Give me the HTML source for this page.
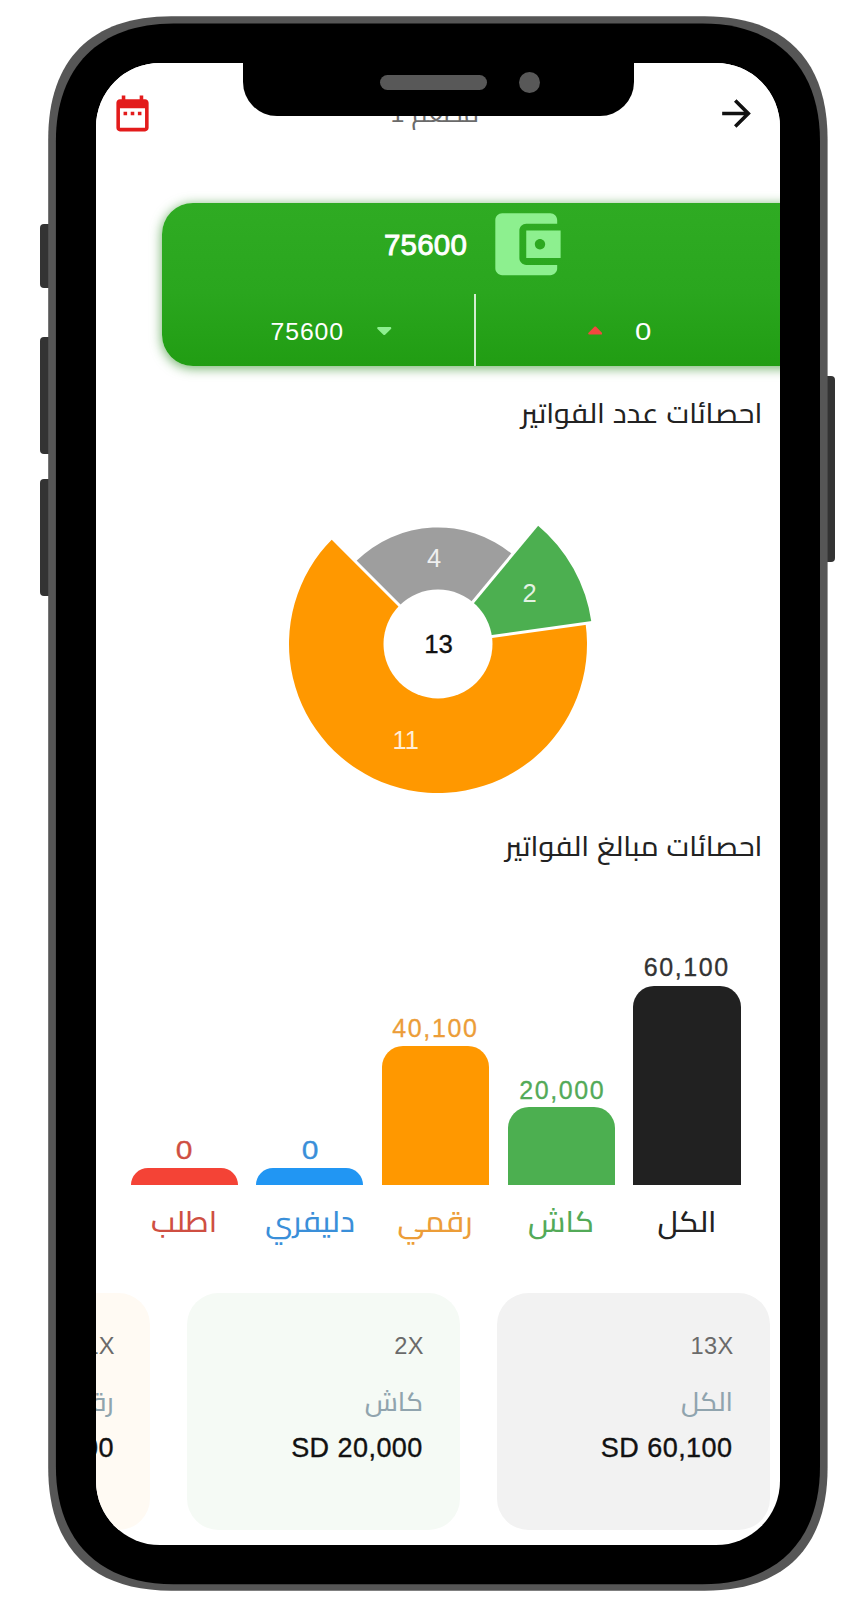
<!DOCTYPE html>
<html lang="ar">
<head>
<meta charset="utf-8">
<title>احصائات الفواتير</title>
<style>
*{box-sizing:border-box;margin:0;padding:0}
html,body{width:863px;height:1613px;background:#fff;overflow:hidden}
body{position:relative;font-family:"Liberation Sans","Cairo","DejaVu Sans",sans-serif;color:#222}
.abs{position:absolute}
.btn{position:absolute;background:#333}
.screen{position:absolute;left:96px;top:63px;width:684px;height:1482.3px;border-radius:64px;background:#fff;overflow:hidden}
.page{position:absolute;left:-96px;top:-63px;width:863px;height:1613px}
.notch{position:absolute;left:243px;top:50px;width:391px;height:66px;border-radius:0 0 34px 34px;background:#000}
.speaker{position:absolute;left:380px;top:75px;width:107px;height:14.5px;border-radius:8px;background:#585858}
.camera{position:absolute;left:518.5px;top:71.8px;width:21px;height:21px;border-radius:50%;background:#585858}
.t{position:absolute;white-space:nowrap;line-height:1}
.rtl{direction:rtl;font-weight:500;transform:scaleX(1.04);transform-origin:100% 50%}
.num{direction:ltr;unicode-bidi:isolate}
</style>
</head>
<body>
<!-- phone side buttons -->
<div class="btn" style="left:39.5px;top:224px;width:12px;height:64px;border-radius:4px 0 0 4px"></div>
<div class="btn" style="left:39.5px;top:337px;width:12px;height:116.5px;border-radius:4px 0 0 4px"></div>
<div class="btn" style="left:39.5px;top:479px;width:12px;height:117px;border-radius:4px 0 0 4px"></div>
<div class="btn" style="left:823px;top:376px;width:12.4px;height:186px;border-radius:0 4px 4px 0"></div>
<svg class="abs" style="left:0;top:0" width="863" height="1613" viewBox="0 0 863 1613"><path fill="#565656" d="M171.2 16.3H704.6C784.3 16.3 827.6 59.6 827.6 139.3V1467.7C827.6 1547.4 784.3 1590.7 704.6 1590.7H171.2C91.5 1590.7 48.2 1547.4 48.2 1467.7V139.3C48.2 59.6 91.5 16.3 171.2 16.3Z"/><path fill="#000" d="M173.5 23.6H702.4C776.61 23.6 820 66.99 820 141.2V1466.6C820 1540.81 776.61 1584.2 702.4 1584.2H173.5C99.29 1584.2 55.9 1540.81 55.9 1466.6V141.2C55.9 66.99 99.29 23.6 173.5 23.6Z"/></svg>

<div class="screen"><div class="page">

<!-- header -->
<div class="abs" style="left:96px;top:63px;width:684px;height:103px;background:#fff"></div>
<svg class="abs" style="left:111px;top:91.8px" width="43" height="43" viewBox="0 0 24 24"><path fill="#e31b1b" d="M9 11H7v2h2v-2zm4 0h-2v2h2v-2zm4 0h-2v2h2v-2zm2-7h-1V2h-2v2H8V2H6v2H5c-1.11 0-1.99.9-1.99 2L3 20c0 1.1.89 2 2 2h14c1.1 0 2-.9 2-2V6c0-1.1-.9-2-2-2zm0 16H5V9h14v11z"/></svg>
<svg class="abs" style="left:715px;top:92px" width="43" height="43" viewBox="0 0 24 24"><path fill="#111" d="M12 4l-1.41 1.41L16.17 11H4v2h12.17l-5.58 5.59L12 20l8-8z"/></svg>
<div class="t rtl" id="title" style="right:383.6px;top:102px;font-size:24px;color:#6a6a6a">مطعم <span class="num">1</span></div>

<!-- green wallet card -->
<div class="abs" id="gcard" style="left:162px;top:203px;width:660px;height:163px;border-radius:31px;background:linear-gradient(180deg,#2fab23 0%,#2aa61e 55%,#219d13 100%);box-shadow:0 2px 11px 1px rgba(45,140,35,.62)"></div>
<svg class="abs" style="left:484.7px;top:203.4px" width="82.5" height="82.5" viewBox="0 0 24 24"><path fill="#8df08f" d="M21 18v1c0 1.1-.9 2-2 2H5c-1.11 0-2-.9-2-2V5c0-1.1.89-2 2-2h14c1.1 0 2 .9 2 2v1h-9c-1.11 0-2 .9-2 2v8c0 1.1.89 2 2 2h9zm-9-2h10V8H12v8zm4-2.5c-.83 0-1.5-.67-1.5-1.5s.67-1.5 1.5-1.5 1.5.67 1.5 1.5-.67 1.5-1.5 1.5z"/></svg>
<div class="t num" id="big" style="left:384px;top:229.6px;font-size:29.5px;color:#fff;letter-spacing:.2px;-webkit-text-stroke:.9px #fff">75600</div>
<div class="abs" style="left:474px;top:294px;width:2px;height:72px;background:rgba(255,255,255,.8)"></div>
<div class="t num" id="s1" style="left:270.5px;top:319.6px;font-size:24.8px;color:#fff;letter-spacing:.9px">75600</div>
<svg class="abs" style="left:377px;top:326.6px" width="14.5" height="8.3" viewBox="0 0 16 9"><path fill="#8df08f" d="M1.6 0h12.8c1.2 0 1.8 1.2 1 2L9.2 8.3c-.7.7-1.7.7-2.4 0L.6 2C-.2 1.2.4 0 1.600 0z"/></svg>
<svg class="abs" style="left:587.5px;top:325.5px" width="14.5" height="9" viewBox="0 0 16 9"><path fill="#f2473f" d="M1.6 9h12.800c1.200 0 1.800-1.200 1-2L9.200.7c-.7-.7-1.700-.7-2.400 0L.6 7c-.8.800-.2 2 1 2z"/></svg>
<div class="t num" id="s0" style="left:634.6px;top:319.6px;font-size:24.8px;color:#fff;transform:scaleX(1.18);transform-origin:0 0">0</div>

<!-- section 1 title -->
<div class="t rtl" id="h1" style="right:100.3px;top:393.6px;font-size:27.4px;line-height:40px;color:#222">احصائات عدد الفواتير</div>

<!-- donut chart -->
<svg class="abs" style="left:0;top:0" width="863" height="1613" viewBox="0 0 863 1613">
<path fill="#9e9e9e" d="M355.62 561.62A116.5 116.5 0 0 1 512.43 554.37L470.26 605.15A50.5 50.5 0 0 0 402.29 608.29Z"/>
<path fill="#4caf50" d="M537.02 524.75A155 155 0 0 1 591.51 622.59L488.02 637.02A50.5 50.5 0 0 0 470.26 605.15Z"/>
<path fill="#ff9800" d="M585.57 623.41A149 149 0 1 1 332.64 538.64L402.29 608.29A50.5 50.5 0 1 0 488.02 637.02Z"/>
<line x1="438.0" y1="644.0" x2="317.79" y2="523.79" stroke="#fff" stroke-width="3"/>
<line x1="438.0" y1="644.0" x2="546.60" y2="513.21" stroke="#fff" stroke-width="3"/>
<line x1="438.0" y1="644.0" x2="606.37" y2="620.51" stroke="#fff" stroke-width="3"/>
<circle cx="438.0" cy="644.0" r="54.5" fill="#fff"/>
<text x="434.1" y="567.4" text-anchor="middle" font-size="25.5" fill="#fff" fill-opacity=".85">4</text>
<text x="529.5" y="601.8" text-anchor="middle" font-size="25.5" fill="#fff" fill-opacity=".85">2</text>
<text x="405.7" y="749.3" text-anchor="middle" font-size="25.5" fill="#fff" fill-opacity=".85">11</text>
<text x="438.6" y="652.6" text-anchor="middle" font-size="25.8" fill="#111" stroke="#111" stroke-width=".35">13</text>
</svg>
<!-- section 2 title -->
<div class="t rtl" id="h2" style="right:100.3px;top:826.8px;font-size:27.4px;line-height:40px;color:#222">احصائات مبالغ الفواتير</div>
<!-- bar chart -->
<div class="abs" style="left:130.7px;top:1167.6px;width:107.2px;height:17.8px;background:#f44336;border-radius:21px 21px 0 0"></div>
<div class="t num" id="v0" style="left:104.3px;width:160px;text-align:center;top:1138.0px;font-size:25px;transform:scaleX(1.2);color:#cf4f42;-webkit-text-stroke:.3px #cf4f42">0</div>
<div class="t rtl" id="n0" style="left:104.3px;width:160px;text-align:center;top:1199.8px;font-size:29.4px;line-height:44px;transform-origin:50% 50%;color:#cf4f42">اطلب</div>
<div class="abs" style="left:256.4px;top:1167.6px;width:106.8px;height:17.8px;background:#2196f3;border-radius:21px 21px 0 0"></div>
<div class="t num" id="v1" style="left:229.8px;width:160px;text-align:center;top:1138.0px;font-size:25px;transform:scaleX(1.2);color:#3a8fd9;-webkit-text-stroke:.3px #3a8fd9">0</div>
<div class="t rtl" id="n1" style="left:229.8px;width:160px;text-align:center;top:1199.8px;font-size:29.4px;line-height:44px;transform-origin:50% 50%;color:#3a8fd9">دليفري</div>
<div class="abs" style="left:381.7px;top:1046.3px;width:107.5px;height:139.1px;background:#ff9800;border-radius:21px 21px 0 0"></div>
<div class="t num" id="v2" style="left:355.4px;width:160px;text-align:center;top:1015.6px;font-size:25px;letter-spacing:1.6px;color:#ec9d38;-webkit-text-stroke:.3px #ec9d38">40,100</div>
<div class="t rtl" id="n2" style="left:355.4px;width:160px;text-align:center;top:1199.8px;font-size:29.4px;line-height:44px;transform-origin:50% 50%;color:#ec9d38">رقمي</div>
<div class="abs" style="left:507.7px;top:1107.0px;width:107.1px;height:78.4px;background:#4caf50;border-radius:21px 21px 0 0"></div>
<div class="t num" id="v3" style="left:482.3px;width:160px;text-align:center;top:1077.5px;font-size:25px;letter-spacing:1.6px;color:#53aa58;-webkit-text-stroke:.3px #53aa58">20,000</div>
<div class="t rtl" id="n3" style="left:481.2px;width:160px;text-align:center;top:1199.8px;font-size:29.4px;line-height:44px;transform-origin:50% 50%;color:#53aa58">كاش</div>
<div class="abs" style="left:632.8px;top:985.9px;width:108.0px;height:199.5px;background:#212121;border-radius:21px 21px 0 0"></div>
<div class="t num" id="v4" style="left:606.8px;width:160px;text-align:center;top:955.0px;font-size:25px;letter-spacing:1.6px;color:#333;-webkit-text-stroke:.3px #333">60,100</div>
<div class="t rtl" id="n4" style="left:606.8px;width:160px;text-align:center;top:1199.8px;font-size:29.4px;line-height:44px;transform-origin:50% 50%;color:#222">الكل</div>
<!-- summary cards -->
<div class="abs" style="left:497.2px;top:1293.4px;width:272.8px;height:236.3px;border-radius:31.5px;background:#f2f2f2"></div>
<div class="t num" id="c0a" style="right:129.5px;top:1335.4px;font-size:23.6px;letter-spacing:.3px;color:#6a6a6a">13X</div>
<div class="t rtl" id="c0b" style="right:130.5px;top:1382px;font-size:26px;line-height:40px;color:#90a4ae">الكل</div>
<div class="t num" id="c0c" style="right:130.5px;top:1434.8px;font-size:27px;letter-spacing:.45px;color:#111;-webkit-text-stroke:.35px #111">SD 60,100</div>
<div class="abs" style="left:187.4px;top:1293.4px;width:272.4px;height:236.3px;border-radius:31.5px;background:#f5faf5"></div>
<div class="t num" id="c1a" style="right:439.2px;top:1335.4px;font-size:23.6px;letter-spacing:.3px;color:#6a6a6a">2X</div>
<div class="t rtl" id="c1b" style="right:440.2px;top:1382px;font-size:26px;line-height:40px;color:#90a4ae">كاش</div>
<div class="t num" id="c1c" style="right:440.2px;top:1434.8px;font-size:27px;letter-spacing:.45px;color:#111;-webkit-text-stroke:.35px #111">SD 20,000</div>
<div class="abs" style="left:-122.2px;top:1293.4px;width:272.6px;height:236.3px;border-radius:31.5px;background:#fffaf3"></div>
<div class="t num" id="c2a" style="right:748.1px;top:1335.4px;font-size:23.6px;letter-spacing:.3px;color:#6a6a6a">11X</div>
<div class="t rtl" id="c2b" style="right:749.1px;top:1382px;font-size:26px;line-height:40px;color:#90a4ae">رقمي</div>
<div class="t num" id="c2c" style="right:749.1px;top:1434.8px;font-size:27px;letter-spacing:.45px;color:#111;-webkit-text-stroke:.35px #111">SD 40,100</div>

</div></div>

<div class="notch"></div>
<div class="speaker"></div>
<div class="camera"></div>
</body>
</html>
